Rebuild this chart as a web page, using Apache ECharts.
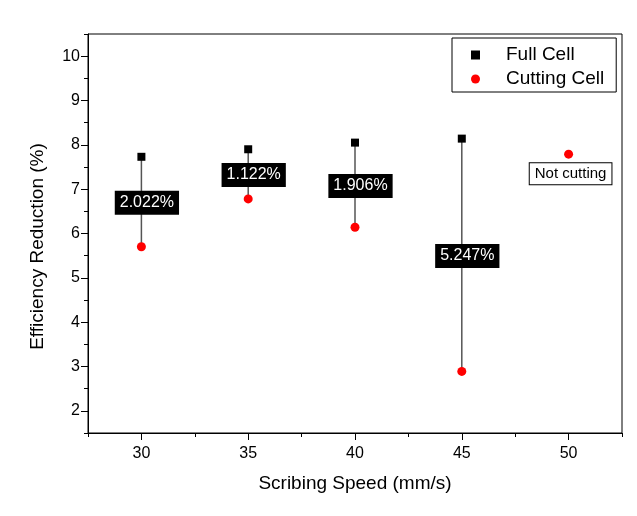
<!DOCTYPE html>
<html><head><meta charset="utf-8">
<script src="https://cdn.jsdelivr.net/npm/echarts@6/dist/echarts.min.js"></script>
<style>html,body{margin:0;padding:0;background:#fff}#c{width:637px;height:516px}</style>
</head><body><div id="c"></div>
<script>
const speeds = [30, 35, 40, 45, 50];
const fullCell = [7.73, 7.90, 8.05, 8.14, null];
const cuttingCell = [5.70, 6.78, 6.14, 2.89, 7.79];
const reductionLabels = ['2.022%', '1.122%', '1.906%', '5.247%', 'Not cutting'];
const xTicks = [30, 35, 40, 45, 50];
const yTicks = [2, 3, 4, 5, 6, 7, 8, 9, 10];

const FONT = '"Liberation Sans", Arial, sans-serif';
const chart = echarts.init(document.getElementById('c'));

const pairData = speeds.map((s, i) => [s, fullCell[i] == null ? cuttingCell[i] : fullCell[i], cuttingCell[i], fullCell[i] == null ? 0 : 1]);

const axisCommonX = {type: 'value', min: 27.5, max: 52.5, position: 'bottom', gridIndex: 0, splitLine: {show: false}};
const axisCommonY = {type: 'value', min: 1.5, max: 10.5, position: 'left', gridIndex: 0, splitLine: {show: false}};

chart.setOption({
  animation: false,
  backgroundColor: '#fff',
  grid: {left: 88, top: 34, right: 15, bottom: 83, show: true, borderColor: '#000', borderWidth: 1, backgroundColor: 'transparent'},
  legend: {
    left: 452, top: 38, orient: 'vertical',
    data: ['Full Cell', 'Cutting Cell'],
    itemWidth: 9, itemHeight: 9, itemGap: 4,
    padding: [7, 12, 3, 19],
    borderColor: '#000', borderWidth: 1,
    textStyle: {fontFamily: FONT, fontSize: 19, color: '#000', lineHeight: 20, padding: [0, 0, 0, 21]}
  },
  xAxis: [
    Object.assign({}, axisCommonX, {
      interval: 2.5,
      name: 'Scribing Speed (mm/s)', nameLocation: 'middle', nameGap: 41,
      nameTextStyle: {fontFamily: FONT, fontSize: 19, color: '#000'},
      axisLine: {lineStyle: {color: '#000', width: 1}},
      axisTick: {length: 4, lineStyle: {color: '#000'}},
      axisLabel: {show: false}
    }),
    Object.assign({}, axisCommonX, {
      axisLine: {show: false},
      axisTick: {show: true, customValues: xTicks, length: 7, lineStyle: {color: '#000'}},
      axisLabel: {customValues: xTicks, margin: 13, fontFamily: FONT, fontSize: 16, color: '#000'}
    })
  ],
  yAxis: [
    Object.assign({}, axisCommonY, {
      interval: 0.5,
      name: 'Efficiency Reduction (%)', nameLocation: 'middle', nameGap: 41,
      nameTextStyle: {fontFamily: FONT, fontSize: 19, color: '#000', padding: [0, 26, 0, 0]},
      axisLine: {lineStyle: {color: '#000', width: 1}},
      axisTick: {length: 4, lineStyle: {color: '#000'}},
      axisLabel: {show: false}
    }),
    Object.assign({}, axisCommonY, {
      axisLine: {show: false},
      axisTick: {show: true, customValues: yTicks, length: 7, lineStyle: {color: '#000'}},
      axisLabel: {customValues: yTicks, margin: 8, fontFamily: FONT, fontSize: 16, color: '#000'}
    })
  ],
  series: [
    {
      type: 'custom', name: 'pairs', xAxisIndex: 0, yAxisIndex: 0,
      data: pairData,
      encode: {x: 0, y: [1, 2]},
      renderItem: function (params, api) {
        const x = api.value(0), f = api.value(1), c = api.value(2), has = api.value(3);
        const p1 = api.coord([x, f]), p2 = api.coord([x, c]);
        const txt = reductionLabels[params.dataIndex];
        if (has) {
          return {type: 'group', children: [
            {type: 'line', shape: {x1: p1[0], y1: p1[1], x2: p2[0], y2: p2[1]}, style: {stroke: '#555', lineWidth: 1.5}},
            {type: 'text', z2: 10, style: {text: txt, x: p1[0] + 5.5, y: (p1[1] + p2[1]) / 2 + 1, align: 'center', verticalAlign: 'middle',
              fill: '#fff', backgroundColor: '#000', padding: [4, 5, 4, 5], font: '16px ' + FONT}}
          ]};
        }
        return {type: 'text', z2: 10, style: {text: txt, x: p2[0] + 2, y: p2[1] + 19.5, align: 'center', verticalAlign: 'middle',
          fill: '#000', backgroundColor: '#fff', borderColor: '#000', borderWidth: 1, padding: [3, 5, 3, 5], font: '15px ' + FONT}};
      }
    },
    {
      type: 'scatter', name: 'Full Cell', xAxisIndex: 0, yAxisIndex: 0,
      symbol: 'rect', symbolSize: 8, itemStyle: {color: '#000', opacity: 1},
      data: speeds.map((s, i) => [s, fullCell[i]]).filter(d => d[1] != null)
    },
    {
      type: 'scatter', name: 'Cutting Cell', xAxisIndex: 0, yAxisIndex: 0,
      symbol: 'circle', symbolSize: 9, itemStyle: {color: '#ff0000', opacity: 1},
      data: speeds.map((s, i) => [s, cuttingCell[i]])
    }
  ]
});
</script></body></html>
